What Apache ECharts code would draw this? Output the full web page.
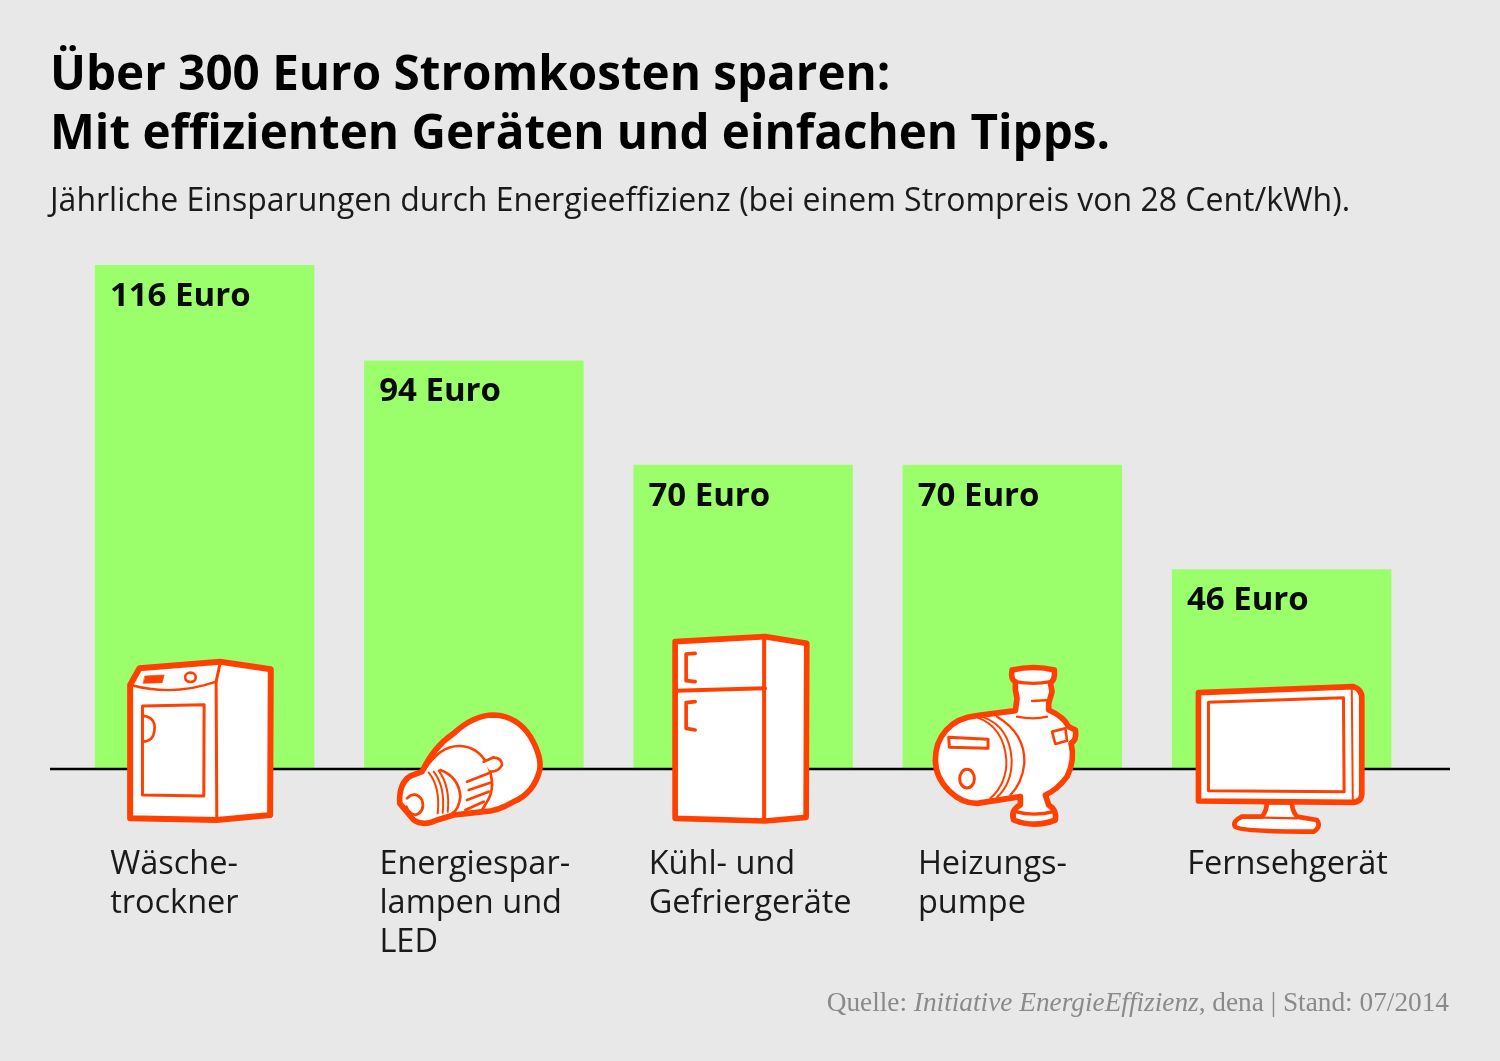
<!DOCTYPE html>
<html>

<head>
    <meta charset="UTF-8" />
    <title>Stromkosten sparen</title>
    <script src="https://cdn.jsdelivr.net/npm/echarts@6/dist/echarts.min.js"></script>
    <style>
        html, body { margin: 0; padding: 0; background: #e8e8e8; }
        #chart { width: 1500px; height: 1061px; }
    </style>
</head>

<body>
    <div id="chart"></div>

    <script type="text/javascript">
        var categories = ['Wäsche-\ntrockner', 'Energiespar-\nlampen und\nLED', 'Kühl- und\nGefriergeräte', 'Heizungs-\npumpe', 'Fernsehgerät'];
        var savings = [116, 94, 70, 70, 46];

        var titleText = 'Über 300 Euro Stromkosten sparen:\nMit effizienten Geräten und einfachen Tipps.';
        var subtitleText = 'Jährliche Einsparungen durch Energieeffizienz (bei einem Strompreis von 28 Cent/kWh).';
        var sourceText = 'Quelle: {i|Initiative EnergieEffizienz}, dena | Stand: 07/2014';

        var orange = '#ff4000';
        var sansFont = '"Open Sans", "Noto Sans", sans-serif';

        var icons = [
            {
                anchor: [313.5, 417],
                parts: [
                    { d: 'M90 165 L118 115 L360 95 L512 118 L510 555 L350 570 L90 565 Z', w: 18, fill: '#fff' },
                    { d: 'M360 100 L348 155 L350 565', w: 9 },
                    { d: 'M92 165 Q220 200 348 155', w: 7 },
                    { d: 'M127 228 L312 224 L311 498 L127 495 Z', w: 9 },
                    { d: 'M127 257 Q168 262 163 300 Q160 335 127 335', w: 8 },
                    { d: 'M135 138 L192 135 L186 158 L130 160 Z', w: 2, fill: orange },
                    { d: 'M255 142 A16 14 0 1 1 287 142 A16 14 0 1 1 255 142 Z', w: 8 }
                ]
            },
            {
                anchor: [1120.5, 417],
                parts: [
                    { d: 'M898 520 Q895 460 930 438 L965 425 Q1000 350 1060 310 Q1120 255 1180 255 Q1250 258 1290 320 Q1325 380 1318 420 Q1300 490 1240 515 Q1190 545 1150 545 Q1100 550 1060 555 L1010 570 Q970 590 940 570 Z', w: 17, fill: '#fff' },
                    { d: 'M972 420 Q1020 345 1080 348 Q1130 350 1160 400 Q1190 470 1160 515 Q1150 535 1140 545', w: 8 },
                    { d: 'M985 428 Q1020 470 1012 550 M1000 425 Q1035 470 1027 548 M1015 422 Q1050 470 1042 545', w: 6 },
                    { d: 'M1020 420 Q1075 440 1080 500 Q1075 540 1055 550', w: 8 },
                    { d: 'M920 505 Q945 480 965 510 Q975 545 945 555 Q925 550 918 530', w: 8 },
                    { d: 'M1150 395 L1180 382 Q1205 385 1205 405 Q1195 425 1170 425', w: 8, fill: '#fff' },
                    { d: 'M1100 455 L1165 430 M1105 480 L1170 458 M1100 510 L1165 485 M1095 540 L1150 515', w: 8 }
                ]
            },
            {
                anchor: [279, 447],
                parts: [
                    { d: 'M75 65 L345 50 L470 70 L468 592 L345 603 L75 595 Z', w: 17, fill: '#fff' },
                    { d: 'M342 55 L342 600', w: 12 },
                    { d: 'M75 212 L345 205', w: 12 },
                    { d: 'M135 100 L108 102 L108 182 L135 185', w: 11 },
                    { d: 'M135 245 L108 248 L108 325 L135 330', w: 11 }
                ]
            },
            {
                anchor: [1086, 447],
                parts: [
                    { d: 'M855 420 C855 350 900 295 980 287 L1095 272 L1100 235 L1095 210 L1095 185 Q1080 180 1085 150 Q1150 135 1212 150 Q1215 180 1200 188 L1205 215 L1195 250 L1195 270 Q1240 290 1255 320 L1275 330 Q1280 360 1262 370 Q1275 420 1250 470 Q1220 510 1185 525 L1195 555 Q1220 570 1215 600 Q1150 625 1090 600 Q1080 570 1110 555 L1110 530 L980 550 C920 550 855 490 855 420 Z', w: 17, fill: '#fff' },
                    { d: 'M980 292 Q1060 320 1068 420 Q1070 490 1020 535 M1000 292 Q1078 320 1084 420 Q1085 490 1040 532', w: 6 },
                    { d: 'M1040 290 Q1125 340 1122 430 Q1115 490 1080 525', w: 7 },
                    { d: 'M895 352 L1013 358 L1013 385 L897 382 Z', w: 9 },
                    { d: 'M928 476 A22 28 0 1 1 972 476 A22 28 0 1 1 928 476 Z', w: 9 },
                    { d: 'M1095 185 Q1150 195 1200 185', w: 10 },
                    { d: 'M1145 243 L1200 240', w: 7 },
                    { d: 'M1100 290 Q1150 300 1190 290', w: 7 },
                    { d: 'M1095 575 Q1150 590 1210 575', w: 10 },
                    { d: 'M1205 335 L1245 325 L1250 362 L1215 372 Z', w: 8 }
                ]
            },
            {
                anchor: [334.5, 297],
                parts: [
                    { d: 'M290 397 Q290 425 275 440 L215 440 Q185 455 195 470 Q210 485 430 485 Q455 470 440 450 L380 440 Q365 420 365 397 Z', w: 14, fill: '#fff' },
                    { d: 'M280 443 L380 445', w: 7 },
                    { d: 'M85 68 L550 50 Q578 60 575 90 L575 370 Q575 395 550 397 L85 393 Z', w: 17, fill: '#fff' },
                    { d: 'M115 97 L520 83 L522 365 L115 362 Z', w: 9 },
                    { d: 'M545 55 L548 395', w: 6 }
                ]
            }
        ];

        var chart = echarts.init(document.getElementById('chart'), null, { renderer: 'canvas' });

        var renderBaseline = (params, api) => {
            let y = api.coord([0, 0])[1];
            return {
                type: 'line',
                shape: { x1: 50, y1: y, x2: 1450, y2: y },
                style: { stroke: '#000', lineWidth: 2.5 }
            };
        };

        var renderIcon = (params, api) => {
            let base = api.coord([api.value(0), 0]);
            let icon = icons[params.dataIndex];
            return {
                type: 'group',
                x: base[0] - icon.anchor[0] / 3,
                y: base[1] - icon.anchor[1] / 3,
                scaleX: 1 / 3,
                scaleY: 1 / 3,
                children: icon.parts.map(part => ({
                    type: 'path',
                    shape: { pathData: part.d },
                    style: {
                        fill: part.fill || 'none',
                        stroke: orange,
                        lineWidth: part.w,
                        lineJoin: 'round',
                        lineCap: 'round'
                    }
                }))
            };
        };

        var option = {
            animation: false,
            backgroundColor: '#e8e8e8',
            title: [
                {
                    text: titleText,
                    left: 45,
                    top: 42,
                    textStyle: { fontFamily: sansFont, fontWeight: 'bold', fontSize: 47.6, lineHeight: 59, color: '#000' }
                },
                {
                    text: subtitleText,
                    left: 45,
                    top: 181,
                    textStyle: { fontFamily: sansFont, fontWeight: 'normal', fontSize: 32, color: '#1a1a1a' }
                },
                {
                    text: sourceText,
                    right: 46,
                    top: 985,
                    textStyle: {
                        fontFamily: '"Liberation Serif", serif', fontWeight: 'normal', fontSize: 27.3, color: '#8a8a8a',
                        rich: { i: { fontFamily: '"Liberation Serif", serif', fontStyle: 'italic', fontSize: 27.3, color: '#8a8a8a' } }
                    }
                }
            ],
            grid: { left: 70, top: 247.6, width: 1346.25, height: 521.4 },
            xAxis: {
                type: 'category',
                data: categories,
                axisLine: { show: false },
                axisTick: { show: false },
                axisLabel: {
                    interval: 0,
                    margin: 76,
                    formatter: value => value.split('\n').map(line => '{a|' + line + '}').join('\n'),
                    rich: {
                        a: { width: 189, align: 'left', fontFamily: sansFont, fontSize: 32.5, lineHeight: 39, color: '#1a1a1a' }
                    }
                }
            },
            yAxis: { type: 'value', min: 0, max: 120, show: false },
            series: [
                {
                    type: 'bar',
                    data: savings,
                    barWidth: 219.5,
                    itemStyle: { color: '#9bff6b' },
                    label: {
                        show: true,
                        position: 'insideTopLeft',
                        distance: 15,
                        formatter: '{c} Euro',
                        fontFamily: sansFont,
                        fontWeight: 'bold',
                        fontSize: 33,
                        color: '#0a0a0a'
                    }
                },
                {
                    type: 'custom',
                    z: 3,
                    silent: true,
                    renderItem: renderBaseline,
                    data: [[0, 0]],
                    encode: { x: 0, y: 1 }
                },
                {
                    type: 'custom',
                    z: 4,
                    silent: true,
                    renderItem: renderIcon,
                    data: categories.map(c => [c, 0]),
                    encode: { x: 0, y: 1 }
                }
            ]
        };

        chart.setOption(option);
    </script>
</body>

</html>
